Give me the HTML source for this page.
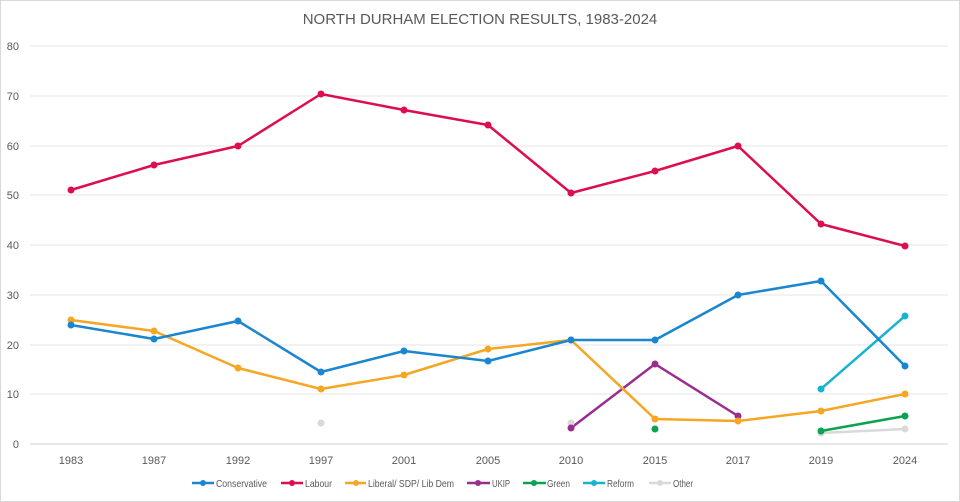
<!DOCTYPE html><html><head><style>body{margin:0;background:#fff}svg{display:block;font-family:"Liberation Sans",sans-serif}</style></head><body>
<svg width="960" height="502" viewBox="0 0 960 502">
<rect x="0.5" y="0.5" width="959" height="501" fill="#fff" stroke="#d9d9d9"/>
<text x="480" y="24" text-anchor="middle" font-size="15" fill="#595959">NORTH DURHAM ELECTION RESULTS, 1983-2024</text>
<g stroke="#e6e6e6" stroke-width="1">
<line x1="30" x2="948" y1="46" y2="46"/><line x1="30" x2="948" y1="96" y2="96"/><line x1="30" x2="948" y1="146" y2="146"/><line x1="30" x2="948" y1="195" y2="195"/><line x1="30" x2="948" y1="245" y2="245"/><line x1="30" x2="948" y1="295" y2="295"/><line x1="30" x2="948" y1="345" y2="345"/><line x1="30" x2="948" y1="394" y2="394"/></g>
<line x1="30" x2="948" y1="444" y2="444" stroke="#d0d0d0"/>
<g font-size="11" fill="#595959" text-anchor="end">
<text x="19" y="50">80</text><text x="19" y="100">70</text><text x="19" y="150">60</text><text x="19" y="199">50</text><text x="19" y="249">40</text><text x="19" y="299">30</text><text x="19" y="349">20</text><text x="19" y="398">10</text><text x="19" y="448">0</text></g>
<g font-size="11" fill="#595959" text-anchor="middle">
<text x="71" y="464">1983</text><text x="154" y="464">1987</text><text x="238" y="464">1992</text><text x="321" y="464">1997</text><text x="404" y="464">2001</text><text x="488" y="464">2005</text><text x="571" y="464">2010</text><text x="655" y="464">2015</text><text x="738" y="464">2017</text><text x="821" y="464">2019</text><text x="905" y="464">2024</text></g>
<g fill="none" stroke-width="2.5" stroke-linejoin="round">
<polyline stroke="#d9d9d9" points="821,433 905,429"/>
<polyline stroke="#0aa34f" points="821,431 905,416"/>
<polyline stroke="#18b4cf" points="821,389 905,316"/>
<polyline stroke="#992e8f" points="571,428 655,364 738,416"/>
<polyline stroke="#f5a623" points="71,320 154,331 238,368 321,389 404,375 488,349 571,340 655,419 738,421 821,411 905,394"/>
<polyline stroke="#1a86d0" points="71,325 154,339 238,321 321,372 404,351 488,361 571,340 655,340 738,295 821,281 905,366"/>
<polyline stroke="#dd0e4e" points="71,190 154,165 238,146 321,94 404,110 488,125 571,193 655,171 738,146 821,224 905,246"/>
</g>
<g>
<g fill="#d9d9d9"><circle cx="321" cy="423" r="3.5"/><circle cx="571" cy="423" r="3.5"/><circle cx="821" cy="433" r="3.5"/><circle cx="905" cy="429" r="3.5"/></g>
<g fill="#0aa34f"><circle cx="655" cy="429" r="3.5"/><circle cx="821" cy="431" r="3.5"/><circle cx="905" cy="416" r="3.5"/></g>
<g fill="#18b4cf"><circle cx="821" cy="389" r="3.5"/><circle cx="905" cy="316" r="3.5"/></g>
<g fill="#992e8f"><circle cx="571" cy="428" r="3.5"/><circle cx="655" cy="364" r="3.5"/><circle cx="738" cy="416" r="3.5"/></g>
<g fill="#f5a623"><circle cx="71" cy="320" r="3.5"/><circle cx="154" cy="331" r="3.5"/><circle cx="238" cy="368" r="3.5"/><circle cx="321" cy="389" r="3.5"/><circle cx="404" cy="375" r="3.5"/><circle cx="488" cy="349" r="3.5"/><circle cx="571" cy="340" r="3.5"/><circle cx="655" cy="419" r="3.5"/><circle cx="738" cy="421" r="3.5"/><circle cx="821" cy="411" r="3.5"/><circle cx="905" cy="394" r="3.5"/></g>
<g fill="#1a86d0"><circle cx="71" cy="325" r="3.5"/><circle cx="154" cy="339" r="3.5"/><circle cx="238" cy="321" r="3.5"/><circle cx="321" cy="372" r="3.5"/><circle cx="404" cy="351" r="3.5"/><circle cx="488" cy="361" r="3.5"/><circle cx="571" cy="340" r="3.5"/><circle cx="655" cy="340" r="3.5"/><circle cx="738" cy="295" r="3.5"/><circle cx="821" cy="281" r="3.5"/><circle cx="905" cy="366" r="3.5"/></g>
<g fill="#dd0e4e"><circle cx="71" cy="190" r="3.5"/><circle cx="154" cy="165" r="3.5"/><circle cx="238" cy="146" r="3.5"/><circle cx="321" cy="94" r="3.5"/><circle cx="404" cy="110" r="3.5"/><circle cx="488" cy="125" r="3.5"/><circle cx="571" cy="193" r="3.5"/><circle cx="655" cy="171" r="3.5"/><circle cx="738" cy="146" r="3.5"/><circle cx="821" cy="224" r="3.5"/><circle cx="905" cy="246" r="3.5"/></g>
</g>
<g font-size="10.5" fill="#595959" stroke-width="2.5" lengthAdjust="spacingAndGlyphs">
<line x1="192" x2="214" y1="483" y2="483" stroke="#1a86d0"/><circle cx="203" cy="483" r="3" fill="#1a86d0"/><text x="216" y="487" textLength="51" lengthAdjust="spacingAndGlyphs">Conservative</text>
<line x1="281" x2="303" y1="483" y2="483" stroke="#dd0e4e"/><circle cx="292" cy="483" r="3" fill="#dd0e4e"/><text x="305" y="487" textLength="27" lengthAdjust="spacingAndGlyphs">Labour</text>
<line x1="345" x2="366" y1="483" y2="483" stroke="#f5a623"/><circle cx="356" cy="483" r="3" fill="#f5a623"/><text x="368" y="487" textLength="86" lengthAdjust="spacingAndGlyphs">Liberal/ SDP/ Lib  Dem</text>
<line x1="467" x2="490" y1="483" y2="483" stroke="#992e8f"/><circle cx="478" cy="483" r="3" fill="#992e8f"/><text x="492" y="487" textLength="18" lengthAdjust="spacingAndGlyphs">UKIP</text>
<line x1="523" x2="546" y1="483" y2="483" stroke="#0aa34f"/><circle cx="534" cy="483" r="3" fill="#0aa34f"/><text x="547" y="487" textLength="23" lengthAdjust="spacingAndGlyphs">Green</text>
<line x1="583" x2="605" y1="483" y2="483" stroke="#18b4cf"/><circle cx="594" cy="483" r="3" fill="#18b4cf"/><text x="607" y="487" textLength="27" lengthAdjust="spacingAndGlyphs">Reform</text>
<line x1="649" x2="671" y1="483" y2="483" stroke="#d9d9d9"/><circle cx="660" cy="483" r="3" fill="#d9d9d9"/><text x="673" y="487" textLength="20" lengthAdjust="spacingAndGlyphs">Other</text>
</g>
</svg></body></html>
